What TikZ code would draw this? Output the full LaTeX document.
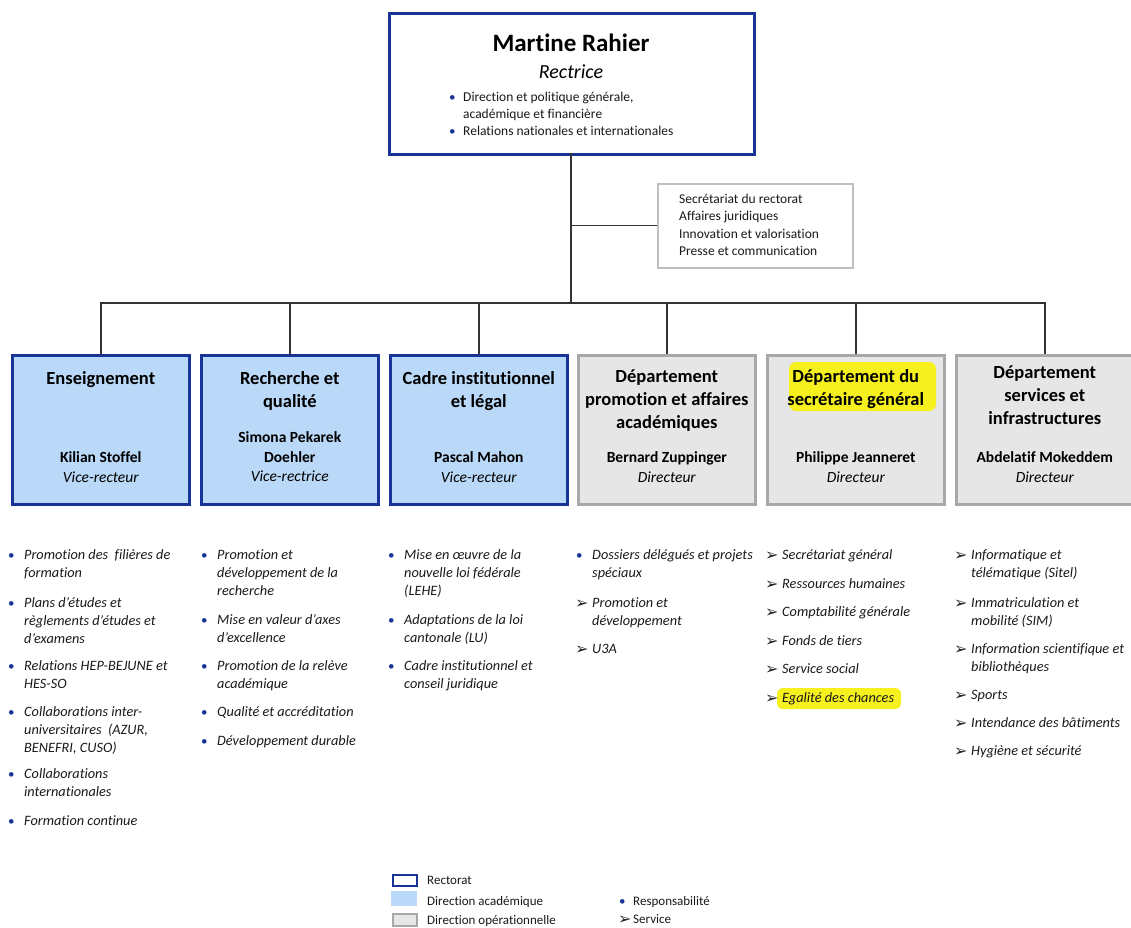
\documentclass[tikz,border=0pt]{standalone}
\usepackage{fontspec}
\setmainfont{Carlito}[Ligatures=NoCommon]
\newfontfamily\symf{DejaVu Sans}
\definecolor{rblue}{RGB}{24,52,150}
\definecolor{lblue}{RGB}{186,216,247}
\definecolor{ggray}{RGB}{168,168,168}
\definecolor{lgray}{RGB}{230,230,230}
\definecolor{hl}{RGB}{246,240,30}
\definecolor{txt}{RGB}{25,25,25}
\newcommand\mlL[1]{\vtop{\let\\\cr\halign{##\hfil\cr#1\crcr}}}
\newcommand\mlC[1]{\vtop{\let\\\cr\halign{\hfil##\hfil\cr#1\crcr}}}
\newcommand\bul{\textcolor{rblue}{\fontsize{13}{13}\selectfont•}}
\newcommand\arr{{\symf\fontsize{16}{16}\selectfont\textcolor{black!85}{\raisebox{-1pt}{➢}}}}
\tikzset{
  x=1pt,y=-1pt,
  rect/.style={draw=rblue,line width=2.6pt,fill=white,inner sep=0},
  acad/.style={draw=rblue,line width=2.6pt,fill=lblue,inner sep=0,minimum width=177pt,minimum height=149pt,anchor=north west},
  oper/.style={draw=ggray,line width=2.6pt,fill=lgray,inner sep=0,minimum width=177pt,minimum height=149pt,anchor=north west},
  conn/.style={draw=black!80,line width=1.4pt},
  hdr/.style={anchor=base,inner sep=0,font=\fontsize{18.5}{23}\selectfont\bfseries},
  nm/.style={anchor=base,inner sep=0,font=\fontsize{15.5}{20}\selectfont\bfseries},
  role/.style={anchor=base,inner sep=0,font=\fontsize{15.5}{20}\selectfont\itshape},
  li/.style={anchor=base west,inner sep=0,text=txt,font=\fontsize{14.3}{18}\selectfont\itshape},
  mk/.style={anchor=base west,inner sep=0},
  leg/.style={anchor=base west,inner sep=0,text=txt,font=\fontsize{13}{16}\selectfont},
}
\begin{document}
\begin{tikzpicture}
\useasboundingbox (0,0) rectangle (1131,927);
% top box
\node[rect,minimum width=365pt,minimum height=141pt,anchor=north west] (top) at (388,12) {};
\node[anchor=base,inner sep=0,font=\fontsize{25}{28}\selectfont\bfseries] (tname) at (571,51) {Martine Rahier};
\node[anchor=base,inner sep=0,font=\fontsize{20}{24}\selectfont\itshape] (trole) at (571,78) {Rectrice};
\node[mk] (tb1) at (449,101) {\bul};
\node[mk,font=\fontsize{13.5}{17}\selectfont,text=txt] (tt1) at (463,101) {\mlL{Direction et politique générale,\\académique et financière}};
\node[mk] (tb2) at (449,135) {\bul};
\node[mk,font=\fontsize{13.5}{17}\selectfont,text=txt] (tt2) at (463,135) {\mlL{Relations nationales et internationales}};
% side box
\node[draw=black!25,line width=1.5pt,fill=white,minimum width=195pt,minimum height=84pt,anchor=north west,inner sep=0] (side) at (657,183) {};
\node[mk,font=\fontsize{13.5}{17.6}\selectfont,text=txt] (st) at (679,203) {\mlL{Secrétariat du rectorat\\Affaires juridiques\\Innovation et valorisation\\Presse et communication}};
% boxes
\node[acad] (b1) at (11,354) {};
\node[acad] (b2) at (200,354) {};
\node[acad] (b3) at (389,354) {};
\node[oper] (b4) at (577,354) {};
\node[oper] (b5) at (766,354) {};
\node[oper] (b6) at (955,354) {};
% connectors
\coordinate (tr) at (571,153);
\coordinate (j) at (571,303);
\draw[conn] (tr) -- (j);
\draw[conn] (side.west) -- (side.west -| tr);
\draw[conn] (b1.north) |- (j) -| (b6.north);
\foreach \b in {b2,b3,b4,b5} \draw[conn] (\b.north) -- (\b.north |- j);
% highlight
\fill[hl,rounded corners=7pt] (789,362) rectangle (936,411);
% box texts
\node[hdr] (h1) at (b1.north |- 0,384) {Enseignement};
\node[hdr] (h2) at (b2.north |- 0,384) {\mlC{Recherche et\\qualité}};
\node[hdr] (h3) at (b3.north |- 0,384) {\mlC{Cadre institutionnel\\et légal}};
\node[hdr] (h4) at (b4.north |- 0,382) {\mlC{Département\\promotion et affaires\\académiques}};
\node[hdr] (h5) at (b5.north |- 0,382) {\mlC{Département du\\secrétaire général}};
\node[hdr] (h6) at (b6.north |- 0,378) {\mlC{Département\\services et\\infrastructures}};
\node[nm] (n1) at (b1.north |- 0,462) {Kilian Stoffel};
\node[role] (r1) at (b1.north |- 0,482) {Vice-recteur};
\node[nm] (n2) at (b2.north |- 0,442) {\mlC{Simona Pekarek\\Doehler}};
\node[role] (r2) at (b2.north |- 0,481) {Vice-rectrice};
\node[nm] (n3) at (b3.north |- 0,462) {Pascal Mahon};
\node[role] (r3) at (b3.north |- 0,482) {Vice-recteur};
\node[nm] (n4) at (b4.north |- 0,462) {Bernard Zuppinger};
\node[role] (r4) at (b4.north |- 0,482) {Directeur};
\node[nm] (n5) at (b5.north |- 0,462) {Philippe Jeanneret};
\node[role] (r5) at (b5.north |- 0,482) {Directeur};
\node[nm] (n6) at (b6.north |- 0,462) {Abdelatif Mokeddem};
\node[role] (r6) at (b6.north |- 0,482) {Directeur};
% column 1
\foreach \y/\t [count=\i] in {559/{Promotion des\ \ filières de\\formation},607/{Plans d’études et\\règlements d’études et\\d’examens},670/{Relations HEP-BEJUNE et\\HES-SO},716/{Collaborations inter-\\universitaires\ \ (AZUR,\\BENEFRI, CUSO)},778/{Collaborations\\internationales},825/{Formation continue}}{
  \node[mk] (c1m\i) at (8,\y) {\bul};
  \node[li] (c1t\i) at (24,\y) {\mlL{\t}};
}
% column 2
\foreach \y/\t [count=\i] in {559/{Promotion et\\développement de la\\recherche},624/{Mise en valeur d’axes\\d’excellence},670/{Promotion de la relève\\académique},716/{Qualité et accréditation},745/{Développement durable}}{
  \node[mk] (c2m\i) at (201,\y) {\bul};
  \node[li] (c2t\i) at (217,\y) {\mlL{\t}};
}
% column 3
\foreach \y/\t [count=\i] in {559/{Mise en œuvre de la\\nouvelle loi fédérale\\(LEHE)},624/{Adaptations de la loi\\cantonale (LU)},670/{Cadre institutionnel et\\conseil juridique}}{
  \node[mk] (c3m\i) at (388,\y) {\bul};
  \node[li] (c3t\i) at (404,\y) {\mlL{\t}};
}
% column 4
\node[mk] (c4m1) at (576,559) {\bul};
\node[li] (c4t1) at (592,559) {\mlL{Dossiers délégués et projets\\spéciaux}};
\foreach \y/\t [count=\i from 2] in {607/{Promotion et\\développement},653/{U3A}}{
  \node[mk] (c4m\i) at (575,\y) {\arr};
  \node[li] (c4t\i) at (592,\y) {\mlL{\t}};
}
% column 5
\fill[hl,rounded corners=6pt] (777,688) rectangle (901,709);
\foreach \y/\t [count=\i] in {559/{Secrétariat général},588/{Ressources humaines},616/{Comptabilité générale},645/{Fonds de tiers},673/{Service social},702/{Egalité des chances}}{
  \node[mk] (c5m\i) at (765,\y) {\arr};
  \node[li] (c5t\i) at (782,\y) {\mlL{\t}};
}
% column 6
\foreach \y/\t [count=\i] in {559/{Informatique et\\télématique (Sitel)},607/{Immatriculation et\\mobilité (SIM)},653/{Information scientifique et\\bibliothèques},699/{Sports},727/{Intendance des bâtiments},755/{Hygiène et sécurité}}{
  \node[mk] (c6m\i) at (954,\y) {\arr};
  \node[li] (c6t\i) at (971,\y) {\mlL{\t}};
}
% legend
\node[draw=rblue,line width=2pt,fill=white,minimum width=24pt,minimum height=11pt,inner sep=0,anchor=north west] (lg1) at (392,874) {};
\node[fill=lblue,minimum width=26pt,minimum height=15pt,inner sep=0,anchor=north west] (lg2) at (391,891) {};
\node[draw=ggray,line width=1.5pt,fill=lgray,minimum width=24pt,minimum height=12pt,inner sep=0,anchor=north west] (lg3) at (392,913) {};
\node[leg] (lt1) at (427,884) {Rectorat};
\node[leg] (lt2) at (427,905) {Direction académique};
\node[leg] (lt3) at (427,924) {Direction opérationnelle};
\node[mk] (lm1) at (619,905) {\bul};
\node[leg] (lt4) at (633,905) {Responsabilité};
\node[mk] (lm2) at (618,923) {\arr};
\node[leg] (lt5) at (633,923) {Service};
\end{tikzpicture}
\end{document}
